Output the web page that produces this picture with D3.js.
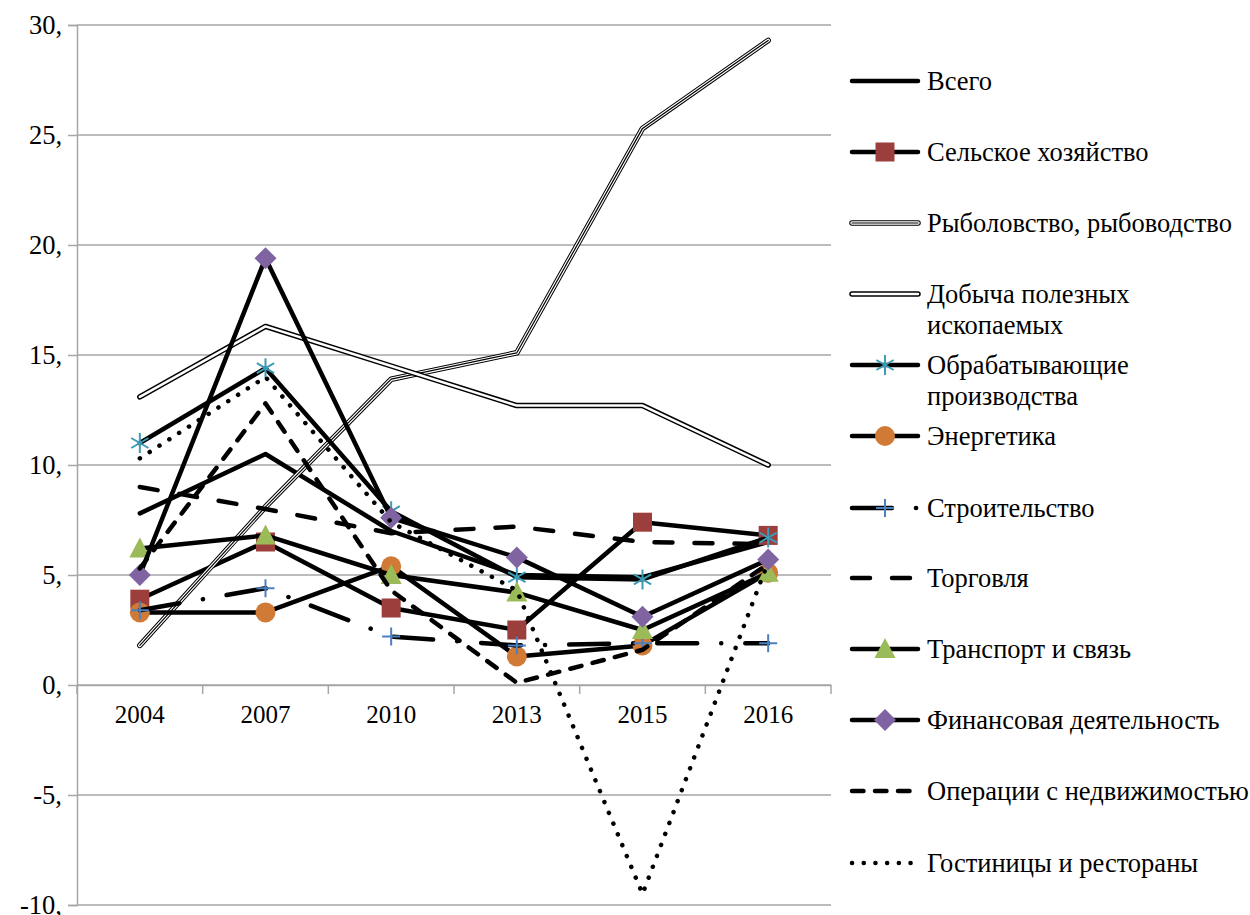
<!DOCTYPE html>
<html>
<head>
<meta charset="utf-8">
<script src="https://cdn.jsdelivr.net/npm/d3@7"></script>
<style>
body { margin: 0; background: #fff; }
</style>
</head>
<body>
<script>
var w = 1250;
var h = 915;

var years = ["2004", "2007", "2010", "2013", "2015", "2016"];
var yTicks = [-10, -5, 0, 5, 10, 15, 20, 25, 30];

var vsego   = [7.8, 10.5, 7.0, 5.0, 4.9, 6.5];
var selsk   = [3.9, 6.5, 3.5, 2.5, 7.4, 6.8];
var rybol   = [1.8, 8.1, 13.9, 15.1, 25.3, 29.3];
var dobycha = [13.1, 16.3, 14.5, 12.7, 12.7, 10.0];
var obrab   = [11.0, 14.4, 7.9, 4.9, 4.8, 6.7];
var energ   = [3.3, 3.3, 5.4, 1.3, 1.8, 5.1];
var stroit  = [3.4, 4.4, 2.2, 1.8, 1.9, 1.9];
var torg    = [9.0, 8.0, 6.9, 7.2, 6.5, 6.4];
var transp  = [6.2, 6.8, 5.0, 4.2, 2.5, 5.1];
var finans  = [5.0, 19.4, 7.6, 5.8, 3.1, 5.7];
var nedv    = [5.3, 12.8, 4.3, 0.1, 1.6, 5.5];
var gost    = [10.3, 14.0, 7.4, 4.3, -9.5, 5.6];

// name, values, line style, marker
var series = [
    [["Всего"], vsego, "solid", null],
    [["Сельское хозяйство"], selsk, "solid", "square"],
    [["Рыболовство, рыбоводство"], rybol, "triple", null],
    [["Добыча полезных", "ископаемых"], dobycha, "double", null],
    [["Обрабатывающие", "производства"], obrab, "solid", "star"],
    [["Энергетика"], energ, "solid", "circle"],
    [["Строительство"], stroit, "dashdot", "plus"],
    [["Торговля"], torg, "longdash", null],
    [["Транспорт и связь"], transp, "solid", "triangle"],
    [["Финансовая деятельность"], finans, "solid", "diamond"],
    [["Операции с недвижимостью"], nedv, "dash", null],
    [["Гостиницы и рестораны"], gost, "dot", null]
];

var plotL = 77, plotR = 831, plotT = 25, plotB = 905;
var font = "'Liberation Serif', 'Times New Roman', serif";

var svg = d3.select("body")
            .append("svg")
            .attr("width", w)
            .attr("height", h);

var x = d3.scaleBand().domain(years).range([plotL, plotR]).padding(0);
var y = d3.scaleLinear().domain([-10, 30]).range([plotB, plotT]);
var cx = function(i){ return x(years[i]) + x.bandwidth() / 2; };

// gridlines
svg.selectAll("line.grid")
    .data(yTicks)
    .enter()
    .append("line")
    .attr("x1", plotL).attr("x2", plotR)
    .attr("y1", function(d){ return y(d); })
    .attr("y2", function(d){ return y(d); })
    .attr("stroke", "#a6a6a6")
    .attr("stroke-width", 1.5);

// y axis
var yAxis = d3.axisLeft(y).tickValues(yTicks).tickSize(9).tickPadding(6)
    .tickFormat(function(d){ return d + ","; });
var ga = svg.append("g").attr("transform", "translate(" + plotL + ",0)").call(yAxis);
ga.attr("font-family", font).attr("font-size", 26.5);
ga.select(".domain").attr("stroke", "#a6a6a6").attr("stroke-width", 1.5);
ga.selectAll(".tick line").attr("stroke", "#a6a6a6").attr("stroke-width", 1.5);
ga.selectAll("text").attr("fill", "#000");

// x axis at zero
var xAxis = d3.axisBottom(x).tickSize(0).tickPadding(20);
var gx = svg.append("g").attr("transform", "translate(0," + y(0) + ")").call(xAxis);
gx.attr("font-family", font).attr("font-size", 25);
gx.select(".domain").attr("stroke", "#a6a6a6").attr("stroke-width", 1.5);
gx.selectAll("text").attr("fill", "#000");
svg.selectAll("line.xt")
    .data(d3.range(years.length + 1))
    .enter()
    .append("line")
    .attr("x1", function(i){ return plotL + i * x.bandwidth(); })
    .attr("x2", function(i){ return plotL + i * x.bandwidth(); })
    .attr("y1", y(0)).attr("y2", y(0) + 9)
    .attr("stroke", "#a6a6a6")
    .attr("stroke-width", 1.5);

// line styles
function strokeLayers(style){
    if (style == "double") return [["#000", 5.5, null], ["#fff", 2.5, null]];
    if (style == "triple") return [["#000", 5.5, null], ["#fff", 3.5, null], ["#000", 1.2, null]];
    if (style == "longdash") return [["#000", 4.5, "18,22"]];
    if (style == "dash") return [["#000", 4.5, "11.5,11.5"]];
    if (style == "dot") return [["#000", 4.5, "0.1,11.6"]];
    if (style == "dashdot") return [["#000", 4.5, "40,24,0.1,24"]];
    return [["#000", 4.5, null]];
}

function drawMarker(g, type, px, py){
    if (type == "square") {
        g.append("rect").attr("x", px - 9.5).attr("y", py - 9.5)
            .attr("width", 19).attr("height", 19).attr("fill", "#9c3f3c");
    } else if (type == "circle") {
        g.append("circle").attr("cx", px).attr("cy", py).attr("r", 10).attr("fill", "#d07a35");
    } else if (type == "triangle") {
        g.append("path").attr("d", "M" + px + "," + (py - 11) + "L" + (px + 10.5) + "," + (py + 9)
            + "L" + (px - 10.5) + "," + (py + 9) + "Z").attr("fill", "#9bbb59");
    } else if (type == "diamond") {
        g.append("path").attr("d", "M" + px + "," + (py - 11) + "L" + (px + 11) + "," + py
            + "L" + px + "," + (py + 11) + "L" + (px - 11) + "," + py + "Z").attr("fill", "#8064a2");
    } else if (type == "plus") {
        g.append("path").attr("d", "M" + (px - 9) + "," + py + "H" + (px + 9) + "M" + px + "," + (py - 9) + "V" + (py + 9))
            .attr("stroke", "#4a80c0").attr("stroke-width", 2).attr("fill", "none");
    } else if (type == "star") {
        var r = 10, d = "";
        [90, 30, -30].forEach(function(a){
            var dx = r * Math.cos(a * Math.PI / 180), dy = r * Math.sin(a * Math.PI / 180);
            d += "M" + (px - dx) + "," + (py - dy) + "L" + (px + dx) + "," + (py + dy);
        });
        g.append("path").attr("d", d).attr("stroke", "#3d9bb5").attr("stroke-width", 2).attr("fill", "none");
    }
}

var line = d3.line()
    .x(function(d, i){ return cx(i); })
    .y(function(d){ return y(d); });

series.forEach(function(s){
    var g = svg.append("g");
    strokeLayers(s[2]).forEach(function(l){
        g.append("path")
            .attr("d", line(s[1]))
            .attr("fill", "none")
            .attr("stroke", l[0])
            .attr("stroke-width", l[1])
            .attr("stroke-dasharray", l[2])
            .attr("stroke-linecap", "round")
            .attr("stroke-linejoin", "round");
    });
    if (s[3]) {
        s[1].forEach(function(v, i){ drawMarker(g, s[3], cx(i), y(v)); });
    }
});

// legend
var legendY = [81, 152, 223, 294, 365, 436, 508, 578, 649, 720, 791, 863];
series.forEach(function(s, k){
    var ly = legendY[k];
    var g = svg.append("g");
    strokeLayers(s[2]).forEach(function(l){
        g.append("line")
            .attr("x1", 852).attr("x2", 918)
            .attr("y1", ly).attr("y2", ly)
            .attr("stroke", l[0])
            .attr("stroke-width", l[1])
            .attr("stroke-dasharray", l[2])
            .attr("stroke-linecap", "round");
    });
    if (s[3]) drawMarker(g, s[3], 885, ly);
    s[0].forEach(function(t, j){
        g.append("text")
            .attr("x", 927)
            .attr("y", ly + j * 31)
            .attr("dy", "0.35em")
            .attr("font-family", font)
            .attr("font-size", 26.5)
            .text(t);
    });
});
</script>
</body>
</html>
